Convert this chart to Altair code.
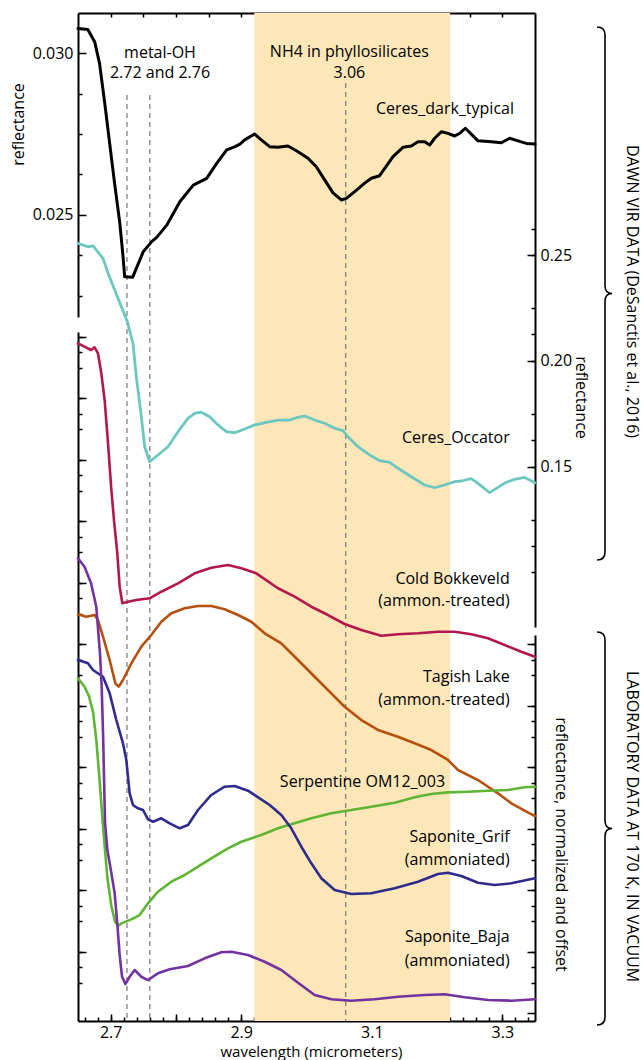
import altair as alt
import pandas as pd

FONT = "Open Sans"
W, H = 457, 1008

# ---------------- spectra ----------------
dark_wl = [2.650, 2.665, 2.6755, 2.683, 2.691, 2.6985, 2.706, 2.714, 2.719, 2.7215, 2.7338,
           2.7500, 2.7629, 2.7705, 2.7859, 2.8062, 2.8266, 2.8471, 2.8624, 2.8778, 2.8905,
           2.8981, 2.9053, 2.9206, 2.9308, 2.9436, 2.9563, 2.9716, 2.987, 3.0023, 3.015,
           3.0278, 3.0406, 3.0533, 3.061, 3.0738, 3.0891, 3.0993, 3.112, 3.1325, 3.1478,
           3.1605, 3.1708, 3.181, 3.1886, 3.1963, 3.2065, 3.2167, 3.2269, 3.2346, 3.2433,
           3.2524, 3.2627, 3.2831, 3.2984, 3.3112, 3.3239, 3.3367, 3.35]
dark_refl = [0.03077, 0.03074, 0.03036, 0.02969, 0.02845, 0.02721, 0.02598, 0.02475, 0.02370,
             0.02308, 0.02307, 0.02386, 0.02417, 0.02430, 0.02468, 0.02541, 0.02592, 0.02613,
             0.02659, 0.02701, 0.02711, 0.02719, 0.02732, 0.02750, 0.02732, 0.02711, 0.02709,
             0.02713, 0.02695, 0.02675, 0.02649, 0.02608, 0.02568, 0.02546, 0.02551, 0.02572,
             0.02598, 0.02613, 0.02621, 0.02680, 0.02709, 0.02713, 0.02726, 0.02726, 0.02716,
             0.02737, 0.02757, 0.02752, 0.02744, 0.02752, 0.02768, 0.02750, 0.02729, 0.02726,
             0.02723, 0.02737, 0.02729, 0.02721, 0.02719]

occ_wl = [2.650, 2.6653, 2.673, 2.6806, 2.6883, 2.696, 2.7062, 2.7164, 2.7256, 2.7342, 2.7393,
          2.747, 2.7521, 2.7598, 2.7725, 2.7878, 2.8032, 2.8185, 2.8287, 2.8389, 2.8517,
          2.8644, 2.8772, 2.89, 2.9053, 2.9206, 2.9385, 2.9563, 2.9742, 2.9844, 2.9972,
          3.0125, 3.0278, 3.0431, 3.0559, 3.0635, 3.0789, 3.0942, 3.112, 3.1274, 3.1401,
          3.1605, 3.181, 3.1963, 3.2116, 3.2269, 3.2371, 3.2524, 3.2627, 3.2805, 3.2907,
          3.3061, 3.3188, 3.3341, 3.35]
occ_refl = [0.2555, 0.2539, 0.2543, 0.2514, 0.2484, 0.2414, 0.2335, 0.2256, 0.2185, 0.2083,
            0.1925, 0.1736, 0.1594, 0.1523, 0.1555, 0.1594, 0.1665, 0.1728, 0.1752, 0.1757,
            0.1736, 0.1697, 0.1665, 0.1660, 0.1678, 0.1697, 0.1709, 0.1720, 0.1720, 0.1731,
            0.1739, 0.1720, 0.1705, 0.1681, 0.1670, 0.1641, 0.1594, 0.1560, 0.1528, 0.1520,
            0.1492, 0.1452, 0.1413, 0.1400, 0.1413, 0.1429, 0.1432, 0.1443, 0.1421, 0.1377,
            0.1397, 0.1426, 0.1440, 0.1449, 0.1424]

# laboratory spectra, normalized and offset (arbitrary units)
cb_wl = [2.650, 2.660, 2.670, 2.6755, 2.6806, 2.6857, 2.6908, 2.696, 2.7011, 2.7051, 2.7102,
         2.7138, 2.7179, 2.7266, 2.7393, 2.7598, 2.7776, 2.8032, 2.8287, 2.8542, 2.8797,
         2.9002, 2.9231, 2.9563, 2.9818, 3.0074, 3.0329, 3.0584, 3.084, 3.1146, 3.1401,
         3.1708, 3.2014, 3.2269, 3.2524, 3.278, 3.3035, 3.329, 3.35]
cb_val = [10.894, 10.839, 10.785, 10.829, 10.732, 10.407, 9.972, 9.268, 8.509, 8.021, 7.480,
          6.937, 6.667, 6.693, 6.720, 6.748, 6.855, 6.992, 7.154, 7.246, 7.289, 7.236, 7.154,
          6.911, 6.774, 6.611, 6.476, 6.330, 6.233, 6.140, 6.163, 6.179, 6.205, 6.205, 6.163,
          6.098, 5.989, 5.880, 5.798]

tl_wl = [2.650, 2.6628, 2.6755, 2.6806, 2.6883, 2.6985, 2.7072, 2.7123, 2.7189, 2.7317, 2.747,
         2.7623, 2.7776, 2.793, 2.8134, 2.8338, 2.8542, 2.8746, 2.8951, 2.9155, 2.9359,
         2.9614, 2.987, 3.0125, 3.038, 3.0584, 3.084, 3.1095, 3.1401, 3.1656, 3.1912, 3.2167,
         3.232, 3.2627, 3.2933, 3.3137, 3.3418, 3.35]
tl_val = [6.488, 6.449, 6.476, 6.395, 6.124, 5.745, 5.366, 5.311, 5.420, 5.691, 5.961, 6.151,
          6.367, 6.504, 6.585, 6.623, 6.623, 6.569, 6.476, 6.367, 6.179, 6.016, 5.745, 5.473,
          5.203, 4.985, 4.769, 4.607, 4.498, 4.390, 4.281, 4.119, 3.956, 3.793, 3.577, 3.415,
          3.252, 3.208]

sp_wl = [2.650, 2.660, 2.667, 2.673, 2.678, 2.683, 2.689, 2.695, 2.701, 2.707, 2.713, 2.7164,
         2.7317, 2.7444, 2.7572, 2.7725, 2.793, 2.8134, 2.8338, 2.8542, 2.8797, 2.9002,
         2.9308, 2.9563, 2.9818, 3.0074, 3.038, 3.0686, 3.0993, 3.135, 3.1656, 3.1912,
         3.2167, 3.2473, 3.278, 3.3086, 3.3341, 3.35]
sp_val = [5.447, 5.311, 5.150, 4.900, 4.450, 3.800, 2.950, 2.200, 1.750, 1.480, 1.430, 1.463,
          1.528, 1.598, 1.789, 1.977, 2.140, 2.249, 2.384, 2.520, 2.683, 2.790, 2.899, 3.008,
          3.089, 3.171, 3.252, 3.306, 3.359, 3.424, 3.512, 3.566, 3.593, 3.603, 3.620, 3.631,
          3.675, 3.685]

sg_wl = [2.650, 2.6653, 2.673, 2.6883, 2.6985, 2.7087, 2.7189, 2.724, 2.7291, 2.7342, 2.7419,
         2.7496, 2.7572, 2.7649, 2.7776, 2.7904, 2.8057, 2.8185, 2.8338, 2.8542, 2.8746, 2.89,
         2.9104, 2.9282, 2.9436, 2.9614, 2.9767, 2.9921, 3.0074, 3.0227, 3.0431, 3.0686,
         3.0993, 3.135, 3.1708, 3.2014, 3.2167, 3.2371, 3.2627, 3.2882, 3.3137, 3.35]
sg_val = [5.745, 5.691, 5.582, 5.473, 5.203, 4.769, 4.390, 4.119, 3.577, 3.387, 3.333, 3.306,
          3.154, 3.115, 3.171, 3.089, 3.008, 3.062, 3.306, 3.550, 3.685, 3.696, 3.620, 3.496,
          3.387, 3.224, 3.008, 2.709, 2.439, 2.195, 2.005, 1.940, 1.951, 2.033, 2.140, 2.265,
          2.286, 2.233, 2.124, 2.086, 2.114, 2.195]

sb_wl = [2.650, 2.660, 2.670, 2.678, 2.6837, 2.6863, 2.6885, 2.6914, 2.695, 2.700, 2.7062,
         2.7102, 2.7138, 2.7174, 2.7225, 2.7291, 2.7368, 2.747, 2.7572, 2.7725, 2.7904,
         2.8185, 2.844, 2.8695, 2.8849, 2.9104, 2.9359, 2.9614, 2.987, 3.0125, 3.038, 3.0686,
         3.1044, 3.1401, 3.181, 3.2116, 3.2422, 3.278, 3.3137, 3.35]
sb_val = [7.398, 7.262, 6.992, 6.611, 5.850, 5.300, 4.500, 3.100, 2.650, 2.350, 1.950, 1.450,
          0.950, 0.600, 0.476, 0.595, 0.704, 0.595, 0.541, 0.650, 0.715, 0.769, 0.894, 0.992,
          1.002, 0.948, 0.839, 0.704, 0.498, 0.298, 0.228, 0.205, 0.228, 0.270, 0.298, 0.309,
          0.260, 0.216, 0.205, 0.228]

# ---------------- annotations ----------------
band_start, band_end = [2.92], [3.22]
feature_wl = [2.725, 2.76, 3.06]
feature_top = [0.02871, 0.02871, 0.02908]      # on the Ceres_dark reflectance scale

dark_text = ["metal-OH", "2.72 and 2.76", "NH4 in phyllosilicates", "3.06"]
dark_text_wl = [2.7756, 2.7756, 3.0657, 3.0657]
dark_text_val = [0.03002, 0.02938, 0.03005, 0.02938]

dark_name, dark_name_wl, dark_name_val = ["Ceres_dark_typical"], [3.3178], [0.02828]
occ_name, occ_name_wl, occ_name_val = ["Ceres_Occator"], [3.3112], [0.1637]

lab_text = ["Cold Bokkeveld", "(ammon.-treated)", "Tagish Lake", "(ammon.-treated)",
            "Saponite_Grif", "(ammoniated)", "Saponite_Baja", "(ammoniated)"]
lab_text_wl = [3.3112] * 8
lab_text_val = [7.057, 6.704, 5.473, 5.094, 2.867, 2.493, 1.245, 0.850]
serp_text, serp_text_wl, serp_text_val = ["Serpentine OM12_003"], [3.0857], [3.76]

# ---------------- scales ----------------
X_DOM = [2.65, 3.35]
DARK_DOM, DARK_RNG = [0.021836, 0.031248], [304, 0]
OCC_DOM, OCC_RNG = [0.0742, 0.36437], [614, 0]
LAB_DOM, LAB_RNG = [-0.125, 11.078], [H, 319]
LABR_DOM, LABR_RNG = [-0.125, 6.151], [H, 622]


def xscale():
    return alt.Scale(domain=X_DOM, nice=False, zero=False)


def yscale(dom, rng):
    return alt.Scale(domain=dom, range=rng, nice=False, zero=False)


def spectrum(wl, val, dom, rng, color, width):
    df = pd.DataFrame({"wl": wl, "val": val})
    return alt.Chart(df).mark_line(color=color, strokeWidth=width, strokeJoin="round",
                                   strokeCap="round").encode(
        x=alt.X("wl:Q", scale=xscale(), axis=None),
        y=alt.Y("val:Q", scale=yscale(dom, rng), axis=None),
    )


def labels(text, wl, val, dom, rng, align):
    df = pd.DataFrame({"wl": wl, "val": val, "t": text})
    return alt.Chart(df).mark_text(font=FONT, fontSize=16, align=align, baseline="middle",
                                   color="black").encode(
        x=alt.X("wl:Q", scale=xscale(), axis=None),
        y=alt.Y("val:Q", scale=yscale(dom, rng), axis=None),
        text="t:N",
    )


def y_axis(dom, rng, axis):
    df = pd.DataFrame({"v": dom})
    return alt.Chart(df).mark_point(opacity=0).encode(
        x=alt.value(0), y=alt.Y("v:Q", scale=yscale(dom, rng), axis=axis))


def x_axis(axis):
    df = pd.DataFrame({"v": X_DOM})
    return alt.Chart(df).mark_point(opacity=0).encode(
        y=alt.value(0), x=alt.X("v:Q", scale=xscale(), axis=axis))


def frame_axis(orient, values=None, fmt=None, title=None, label_kw=None, **kw):
    opts = dict(orient=orient, grid=False, ticks=False, tickSize=0, domain=True,
                domainColor="black", domainWidth=2, labelFont=FONT, labelFontSize=16,
                labelColor="black", labelPadding=5, titleFont=FONT, titleFontSize=16,
                titleFontWeight="normal", titleColor="black")
    if values is None:
        opts["labels"] = False
        opts["values"] = []
    else:
        opts["values"] = values
        opts["format"] = fmt
    if label_kw:
        opts.update(label_kw)
    if title is not None:
        opts["title"] = title
        opts.update(kw)
    else:
        opts["title"] = None
    return alt.Axis(**opts)


def tick_axis(orient, values, size):
    # inward ticks: the axis is pulled into the plot by the tick length
    return alt.Axis(orient=orient, values=values, labels=False, domain=False, grid=False,
                    ticks=True, tickSize=size, tickWidth=1.5, tickColor="black",
                    offset=-size, title=None)


def steps(start, stop, step, skip_every=None):
    out, i = [], 0
    v = start
    while v <= stop + 1e-9:
        if skip_every is None or i % skip_every != 0:
            out.append(round(v, 5))
        v = start + step * (i + 1)
        i += 1
    return out


# ---------------- layers ----------------
band = alt.Chart(pd.DataFrame({"a": band_start, "b": band_end})).mark_rect(
    color="#fde6b8").encode(
    x=alt.X("a:Q", scale=xscale(), axis=None), x2="b:Q",
    y=alt.value(0), y2=alt.value(H))

rules = alt.Chart(pd.DataFrame({"wl": feature_wl, "top": feature_top})).mark_rule(
    color="#808080", strokeWidth=1.3, strokeDash=[5, 4]).encode(
    x=alt.X("wl:Q", scale=xscale(), axis=None),
    y=alt.Y("top:Q", scale=yscale(DARK_DOM, DARK_RNG), axis=None),
    y2=alt.value(H))

lines = [
    spectrum(cb_wl, cb_val, LAB_DOM, LAB_RNG, "#b3174f", 2.6),
    spectrum(tl_wl, tl_val, LAB_DOM, LAB_RNG, "#b6500f", 2.6),
    spectrum(sp_wl, sp_val, LAB_DOM, LAB_RNG, "#5db533", 2.6),
    spectrum(sg_wl, sg_val, LAB_DOM, LAB_RNG, "#2d2c8e", 2.6),
    spectrum(sb_wl, sb_val, LAB_DOM, LAB_RNG, "#7233a0", 2.6),
    spectrum(occ_wl, occ_refl, OCC_DOM, OCC_RNG, "#6cc7c0", 2.8),
    spectrum(dark_wl, dark_refl, DARK_DOM, DARK_RNG, "#000000", 3.0),
]

texts = [
    labels(dark_text, dark_text_wl, dark_text_val, DARK_DOM, DARK_RNG, "center"),
    labels(dark_name, dark_name_wl, dark_name_val, DARK_DOM, DARK_RNG, "right"),
    labels(occ_name, occ_name_wl, occ_name_val, OCC_DOM, OCC_RNG, "right"),
    labels(lab_text, lab_text_wl, lab_text_val, LAB_DOM, LAB_RNG, "right"),
    labels(serp_text, serp_text_wl, serp_text_val, LAB_DOM, LAB_RNG, "center"),
]

axes = [
    # bottom wavelength axis
    x_axis(frame_axis("bottom", [2.7, 2.9, 3.1, 3.3], ".1f", "wavelength (micrometers)",
                      label_kw=dict(labelBaseline="middle", labelPadding=11),
                      titleY=30, titleBaseline="middle", titleX=233, titleFontSize=15)),
    x_axis(tick_axis("bottom", steps(2.7, 3.3, 0.1), 7)),
    x_axis(tick_axis("bottom", steps(2.66, 3.34, 0.02), 4)),
    # top frame
    x_axis(frame_axis("top")),
    x_axis(tick_axis("top", steps(2.70, 3.30, 0.05), 4)),
    # left: Ceres dark reflectance
    y_axis(DARK_DOM, DARK_RNG, frame_axis("left", [0.025, 0.030], ".3f", "reflectance",
                                          titleX=-60, titleY=111, titleAngle=270,
                                          titleAlign="center", titleBaseline="middle")),
    y_axis(DARK_DOM, DARK_RNG, tick_axis("left", [0.025, 0.030], 8)),
    y_axis(DARK_DOM, DARK_RNG, tick_axis("left", [0.0225, 0.02375, 0.02625, 0.0275, 0.02875], 4)),
    # right: Ceres Occator reflectance
    y_axis(OCC_DOM, OCC_RNG, frame_axis("right", [0.15, 0.20, 0.25], ".2f", "reflectance",
                                        titleX=45, titleY=384, titleAngle=90,
                                        titleAlign="center", titleBaseline="middle")),
    y_axis(OCC_DOM, OCC_RNG, tick_axis("right", [0.15, 0.20, 0.25], 8)),
    y_axis(OCC_DOM, OCC_RNG, tick_axis("right", steps(0.0875, 0.2625, 0.0125, 4), 4)),
    # left: laboratory spectra
    y_axis(LAB_DOM, LAB_RNG, frame_axis("left")),
    y_axis(LAB_DOM, LAB_RNG, tick_axis("left", steps(1, 11, 1), 8)),
    y_axis(LAB_DOM, LAB_RNG, tick_axis("left", steps(0.25, 11.0, 0.25, 4), 4)),
    # right: laboratory spectra
    y_axis(LABR_DOM, LABR_RNG, frame_axis("right", title="reflectance, normalized and offset",
                                          titleX=25, titleY=831, titleAngle=90,
                                          titleAlign="center", titleBaseline="middle")),
    y_axis(LABR_DOM, LABR_RNG, tick_axis("right", steps(0, 6, 1), 8)),
    y_axis(LABR_DOM, LABR_RNG, tick_axis("right", steps(0.25, 6.0, 0.25, 4), 4)),
]


def brace_path(half_h, hook=8.0, tip=7.0):
    k = 1.0 / half_h
    a, b, t = hook * k, hook * k, tip * k
    return (f"M {-a:.4f} -1 Q 0 -1 0 {-1 + b:.4f} L 0 {-b:.4f} Q 0 0 {t:.4f} 0 "
            f"Q 0 0 0 {b:.4f} L 0 {1 - b:.4f} Q 0 1 {-a:.4f} 1")


group_names = ["DAWN VIR DATA (DeSanctis et al., 2016)", "LABORATORY DATA AT 170 K, IN VACUUM"]
group_top = [14, 619]       # brace extents in plot pixels
group_bottom = [547, 1012]

decor = []
for name, top, bot in zip(group_names, group_top, group_bottom):
    half = (bot - top) / 2.0
    mid = (bot + top) / 2.0
    decor.append(
        alt.Chart(pd.DataFrame({"g": [name]})).mark_point(
            shape=brace_path(half), filled=False, color="black", strokeWidth=1.6,
            size=(2 * half) ** 2, opacity=1).encode(x=alt.value(527), y=alt.value(mid)))
    decor.append(
        alt.Chart(pd.DataFrame({"g": [name]})).mark_text(
            font=FONT, fontSize=16, angle=90, align="center", baseline="middle",
            color="black").encode(x=alt.value(554), y=alt.value(mid - 2), text="g:N"))

chart = alt.layer(band, rules, *lines, *texts, *axes, *decor).resolve_scale(
    x="independent", y="independent"
).properties(
    width=W, height=H,
    autosize=alt.AutoSizeParams(type="none"),
    padding={"left": 78, "top": 13, "right": 109, "bottom": 39},
).configure_view(stroke=None)

chart.save("out.html", embed_options={"renderer": "svg", "actions": False})
